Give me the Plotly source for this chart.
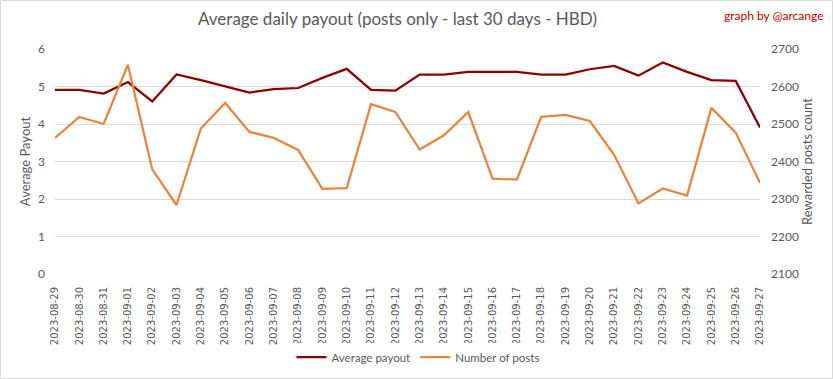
import plotly.graph_objects as go

dates = ["2023-08-29", "2023-08-30", "2023-08-31", "2023-09-01", "2023-09-02", "2023-09-03",
         "2023-09-04", "2023-09-05", "2023-09-06", "2023-09-07", "2023-09-08", "2023-09-09",
         "2023-09-10", "2023-09-11", "2023-09-12", "2023-09-13", "2023-09-14", "2023-09-15",
         "2023-09-16", "2023-09-17", "2023-09-18", "2023-09-19", "2023-09-20", "2023-09-21",
         "2023-09-22", "2023-09-23", "2023-09-24", "2023-09-25", "2023-09-26", "2023-09-27"]

avg_payout = [4.91, 4.91, 4.81, 5.12, 4.60, 5.32, 5.17, 5.01, 4.84, 4.93, 4.96, 5.23,
              5.47, 4.91, 4.89, 5.32, 5.32, 5.39, 5.39, 5.39, 5.32, 5.32, 5.46, 5.55,
              5.29, 5.64, 5.39, 5.17, 5.15, 3.91]

num_posts = [2463, 2519, 2500, 2658, 2379, 2284, 2488, 2556, 2479, 2463, 2431, 2327,
             2329, 2553, 2532, 2432, 2470, 2532, 2354, 2352, 2519, 2524, 2508, 2418,
             2288, 2328, 2309, 2543, 2477, 2343]

FONT = "Lato"
GREY = "#595959"

L, R, T, B = 55, 760, 49, 274
PW, PH = R - L, B - T

def px_x(p):
    return (p - L) / PW

def px_y(p):
    return (B - p) / PH

fig = go.Figure()
fig.add_trace(go.Scatter(x=dates, y=avg_payout, name="Average payout", mode="lines",
                         line=dict(color="#8B0000", width=2.25)))
fig.add_trace(go.Scatter(x=dates, y=num_posts, name="Number of posts", mode="lines",
                         line=dict(color="#E8853D", width=2.25), yaxis="y2"))

fig.update_layout(
    width=833, height=379,
    margin=dict(l=L, r=833 - R, t=T, b=379 - B, autoexpand=False),
    paper_bgcolor="white", plot_bgcolor="white",
    font=dict(family=FONT, color=GREY, size=11),
    xaxis=dict(type="category", tickangle=-90, showgrid=False, showline=False,
               ticks="", automargin=False, ticklabelstandoff=10,
               tickfont=dict(size=10, family="DejaVu Sans", color=GREY)),
    yaxis=dict(range=[0, 6], dtick=1, showgrid=True, gridcolor="#D9D9D9", gridwidth=1,
               zeroline=False, showline=False, ticks="", automargin=False,
               ticklabelstandoff=9,
               tickfont=dict(size=12, color=GREY),
               title=dict(text="Average Payout", font=dict(size=13, color=GREY), standoff=4)),
    yaxis2=dict(range=[2100, 2700], dtick=100, overlaying="y", side="right",
                showgrid=False, zeroline=False, showline=False, ticks="", automargin=False,
                ticklabelstandoff=10,
                tickfont=dict(size=12, color=GREY),
                title=dict(text="Rewarded posts count", font=dict(size=13, color=GREY), standoff=4)),
    legend=dict(orientation="h", x=px_x(418), xanchor="center", y=px_y(357), yanchor="middle",
                font=dict(size=11.5, color=GREY), tracegroupgap=0),
    showlegend=True,
)

fig.add_annotation(text="Average daily payout (posts only - last 30 days - HBD)",
                   xref="paper", yref="paper", x=px_x(397), xanchor="center",
                   y=px_y(18), yanchor="middle", showarrow=False,
                   font=dict(family=FONT, size=17, color=GREY))

fig.add_annotation(text="graph by @arcange", xref="paper", yref="paper",
                   x=px_x(826), xanchor="right", y=px_y(16), yanchor="middle",
                   showarrow=False, font=dict(family=FONT, size=12, color="#C00000"))

fig.add_shape(type="rect", xref="paper", yref="paper",
              x0=px_x(0.5), x1=px_x(832.5), y0=px_y(378.5), y1=px_y(0.5),
              line=dict(color="#D9D9D9", width=1), fillcolor="rgba(0,0,0,0)", layer="below")

fig.write_html("out.html", config={"displayModeBar": False},
               post_script="document.body.style.margin='0';document.body.style.overflow='hidden';")
